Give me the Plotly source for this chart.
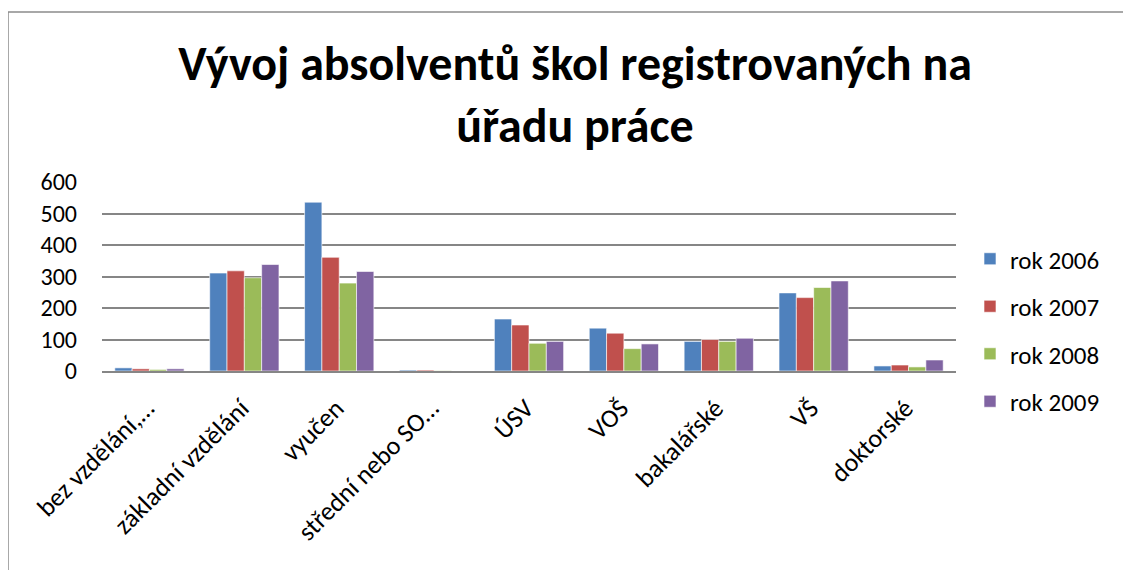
import plotly.graph_objects as go

# education level categories (truncated the same way as in the source chart)
categories = ["bez vzdělání,…", "základní vzdělání", "vyučen", "střední nebo SO…",
              "ÚSV", "VOŠ", "bakalářské", "VŠ", "doktorské"]

rok_2006 = [10, 311, 536, 3, 165, 136, 94, 248, 16]
rok_2007 = [7, 318, 361, 3, 146, 120, 100, 233, 19]
rok_2008 = [5, 296, 279, 1, 88, 71, 94, 265, 13]
rok_2009 = [7, 338, 316, 0, 94, 86, 104, 286, 35]

series_names = ["rok 2006", "rok 2007", "rok 2008", "rok 2009"]
series_values = [rok_2006, rok_2007, rok_2008, rok_2009]
colors = ["#4F81BD", "#C0504D", "#9BBB59", "#8064A2"]

# the page body adds an 8px offset, so positions below are relative to that
W, H = 1131, 570
L, R, T, B = 94, 183, 174, 207
font_family = "Carlito, Lato, 'Open Sans', sans-serif"

fig = go.Figure()
for name, vals, col in zip(series_names, series_values, colors):
    fig.add_trace(go.Bar(
        x=categories, y=vals, name=name,
        marker_color=col,
        marker_line_color="rgba(255,255,255,0.6)",
        marker_line_width=1,
        legendgroup=name,
    ))

pw, ph = W - L - R, H - T - B
# outer chart border (extends past the right and bottom edge)
fig.add_shape(type="rect", xref="paper", yref="paper",
              x0=(0 - L) / pw, x1=(W + 20 - L) / pw,
              y0=-(B + 20) / ph, y1=(H - B - 4) / ph,
              line=dict(color="#8C8C8C", width=1.5), layer="below")

fig.update_layout(
    width=W, height=H,
    margin=dict(l=L, r=R, t=T, b=B, autoexpand=False),
    paper_bgcolor="white", plot_bgcolor="white",
    font=dict(family=font_family, color="black"),
    title=dict(
        text="Vývoj absolventů škol registrovaných na<br>úřadu práce",
        font=dict(size=48, family=font_family, weight="bold"),
        x=567 / W, xanchor="center",
        y=1 - 72 / H, yanchor="middle", yref="container",
    ),
    barmode="group", bargap=0.27, bargroupgap=0,
    legend=dict(
        x=(962 - L) / pw, xanchor="left",
        y=(H - B - 322) / ph, yanchor="middle",
        font=dict(size=25), tracegroupgap=12,
        bgcolor="rgba(0,0,0,0)", maxheight=500,
    ),
    showlegend=True,
)
fig.update_xaxes(
    tickangle=-45, tickfont=dict(size=26),
    showline=True, linecolor="#868686", linewidth=1.5,
    showgrid=False, ticks="",
    ticklabelstandoff=10, ticklabelshift=-3,
)
fig.update_yaxes(
    range=[0, 600], dtick=100, tickfont=dict(size=24),
    showgrid=True, gridcolor="#868686", gridwidth=1.5,
    zeroline=False, showline=False, ticks="",
    ticklabelstandoff=24,
)

fig.write_html("out.html")
